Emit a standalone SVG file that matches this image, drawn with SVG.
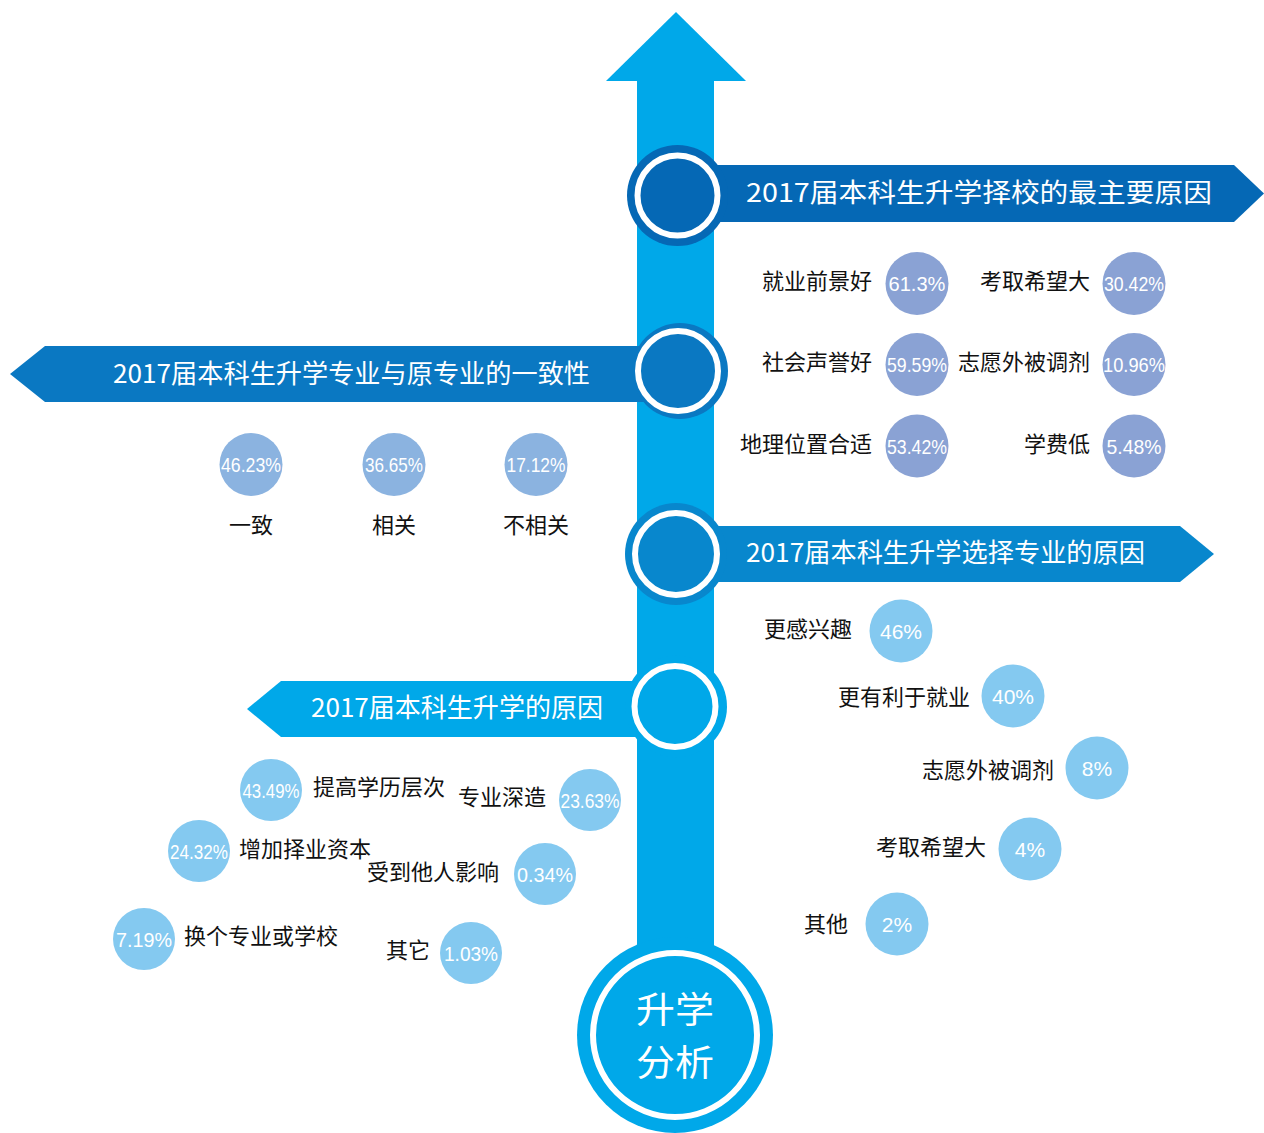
<svg xmlns="http://www.w3.org/2000/svg" width="1264" height="1133" viewBox="0 0 1264 1133">
<style>
.bt{font-family:"Noto Sans CJK SC","Noto Sans",sans-serif;fill:#fff;font-size:26px}
.lb{font-family:"Noto Sans CJK SC","Noto Sans",sans-serif;fill:#111;font-size:22px}
.pc{font-family:"Liberation Sans","Noto Sans",sans-serif;fill:#fff;font-size:21px;text-anchor:middle}
.ring{fill:none;stroke:#fff;stroke-width:6}
.cA{fill:#8aa2d4}
.cB{fill:#8bb3e0}
.cC{fill:#84c9f0}
.big{font-family:"Noto Sans CJK SC","Noto Sans",sans-serif;font-size:36px;fill:#fff;text-anchor:middle}
</style>
<rect width="1264" height="1133" fill="#fff"/>
<g id="stem">
<rect x="637" y="80" width="77" height="930" fill="#00a8e9"/>
<polygon points="676,12 746,81 606,81" fill="#00a8e9"/>
</g>
<g id="connectors">
<polygon points="700,165 1234,165 1264,193.5 1234,222 700,222" fill="#0568b5"/>
<polygon points="10,374 45,346 660,346 660,402 45,402" fill="#0a78c2"/>
<polygon points="700,526 1180,526 1214,554 1180,582 700,582" fill="#0887cd"/>
<polygon points="247,709 281,681 650,681 650,737 281,737" fill="#00a8e9"/>
</g>
<g id="hub1">
<circle cx="677.5" cy="195.5" r="50.5" fill="#0568b5"/>
<circle cx="677.5" cy="195.5" r="40" class="ring"/>
<text class="bt" x="746" y="202" font-size="28" textLength="466" lengthAdjust="spacingAndGlyphs">2017届本科生升学择校的最主要原因</text>
</g>
<g id="hub2">
<circle cx="680" cy="371" r="48" fill="#0a78c2"/>
<circle cx="678" cy="371" r="40" class="ring"/>
<text class="bt" x="113" y="383" textLength="477" lengthAdjust="spacingAndGlyphs">2017届本科生升学专业与原专业的一致性</text>
</g>
<g id="hub3">
<circle cx="676" cy="554" r="51" fill="#0887cd"/>
<circle cx="676" cy="554" r="41" class="ring"/>
<text class="bt" x="746" y="562" textLength="399" lengthAdjust="spacingAndGlyphs">2017届本科生升学选择专业的原因</text>
</g>
<g id="hub4">
<circle cx="676" cy="706.5" r="51" fill="#00a8e9"/>
<circle cx="675" cy="706.5" r="40.5" class="ring"/>
<text class="bt" x="311" y="717" textLength="292" lengthAdjust="spacingAndGlyphs">2017届本科生升学的原因</text>
</g>
<g id="school-reasons">
<circle class="cA" cx="917" cy="283.5" r="31.5"/><text class="pc" x="917" y="291" textLength="57" lengthAdjust="spacingAndGlyphs">61.3%</text>
<text class="lb" x="872" y="289" text-anchor="end">就业前景好</text>
<circle class="cA" cx="1134" cy="283.5" r="31.5"/><text class="pc" x="1134" y="291" textLength="60" lengthAdjust="spacingAndGlyphs">30.42%</text>
<text class="lb" x="1090" y="289" text-anchor="end">考取希望大</text>
<circle class="cA" cx="917" cy="364.5" r="31.5"/><text class="pc" x="917" y="372" textLength="60" lengthAdjust="spacingAndGlyphs">59.59%</text>
<text class="lb" x="872" y="370" text-anchor="end">社会声誉好</text>
<circle class="cA" cx="1134" cy="364.5" r="31.5"/><text class="pc" x="1134" y="372" textLength="62" lengthAdjust="spacingAndGlyphs">10.96%</text>
<text class="lb" x="1090" y="370" text-anchor="end">志愿外被调剂</text>
<circle class="cA" cx="917" cy="446" r="31.5"/><text class="pc" x="917" y="453.5" textLength="60" lengthAdjust="spacingAndGlyphs">53.42%</text>
<text class="lb" x="872" y="452" text-anchor="end">地理位置合适</text>
<circle class="cA" cx="1134" cy="446" r="31.5"/><text class="pc" x="1134" y="453.5" textLength="55" lengthAdjust="spacingAndGlyphs">5.48%</text>
<text class="lb" x="1090" y="452" text-anchor="end">学费低</text>
</g>
<g id="consistency">
<circle class="cB" cx="251" cy="464.5" r="31.5"/><text class="pc" x="251" y="472" textLength="60" lengthAdjust="spacingAndGlyphs">46.23%</text>
<text class="lb" x="251" y="533" text-anchor="middle">一致</text>
<circle class="cB" cx="394" cy="464.5" r="31.5"/><text class="pc" x="394" y="472" textLength="58" lengthAdjust="spacingAndGlyphs">36.65%</text>
<text class="lb" x="394" y="533" text-anchor="middle">相关</text>
<circle class="cB" cx="536" cy="464.5" r="31.5"/><text class="pc" x="536" y="472" textLength="59" lengthAdjust="spacingAndGlyphs">17.12%</text>
<text class="lb" x="536" y="533" text-anchor="middle">不相关</text>
</g>
<g id="major-reasons">
<circle class="cC" cx="901" cy="631" r="31.5"/><text class="pc" x="901" y="639" font-size="22">46%</text>
<text class="lb" x="852" y="637" text-anchor="end">更感兴趣</text>
<circle class="cC" cx="1013" cy="696" r="31.5"/><text class="pc" x="1013" y="704" font-size="22">40%</text>
<text class="lb" x="970" y="705" text-anchor="end">更有利于就业</text>
<circle class="cC" cx="1097" cy="768" r="31.5"/><text class="pc" x="1097" y="776" font-size="22">8%</text>
<text class="lb" x="1054" y="778" text-anchor="end">志愿外被调剂</text>
<circle class="cC" cx="1030" cy="849" r="31.5"/><text class="pc" x="1030" y="857" font-size="22">4%</text>
<text class="lb" x="986" y="855" text-anchor="end">考取希望大</text>
<circle class="cC" cx="897" cy="924" r="31.5"/><text class="pc" x="897" y="932" font-size="22">2%</text>
<text class="lb" x="848" y="932" text-anchor="end">其他</text>
</g>
<g id="study-reasons">
<circle class="cC" cx="271" cy="790" r="31"/><text class="pc" x="271" y="797.5" textLength="57" lengthAdjust="spacingAndGlyphs">43.49%</text>
<text class="lb" x="313" y="795">提高学历层次</text>
<circle class="cC" cx="590" cy="800" r="31"/><text class="pc" x="590" y="807.5" textLength="59" lengthAdjust="spacingAndGlyphs">23.63%</text>
<text class="lb" x="458" y="805">专业深造</text>
<circle class="cC" cx="199" cy="851" r="31"/><text class="pc" x="199" y="858.5" textLength="58" lengthAdjust="spacingAndGlyphs">24.32%</text>
<text class="lb" x="239" y="857">增加择业资本</text>
<circle class="cC" cx="545" cy="874" r="31"/><text class="pc" x="545" y="881.5" textLength="56" lengthAdjust="spacingAndGlyphs">0.34%</text>
<text class="lb" x="367" y="880">受到他人影响</text>
<circle class="cC" cx="144" cy="939" r="31"/><text class="pc" x="144" y="946.5" textLength="56" lengthAdjust="spacingAndGlyphs">7.19%</text>
<text class="lb" x="184" y="944">换个专业或学校</text>
<circle class="cC" cx="471" cy="953" r="31"/><text class="pc" x="471" y="960.5" textLength="54" lengthAdjust="spacingAndGlyphs">1.03%</text>
<text class="lb" x="386" y="958">其它</text>
</g>
<g id="root">
<circle cx="675" cy="1035" r="98" fill="#00a8e9"/>
<circle cx="675" cy="1035" r="82" class="ring"/>
<text class="big" x="675" y="1023" textLength="78" lengthAdjust="spacingAndGlyphs">升学</text>
<text class="big" x="675" y="1076" textLength="78" lengthAdjust="spacingAndGlyphs">分析</text>
</g>
</svg>
